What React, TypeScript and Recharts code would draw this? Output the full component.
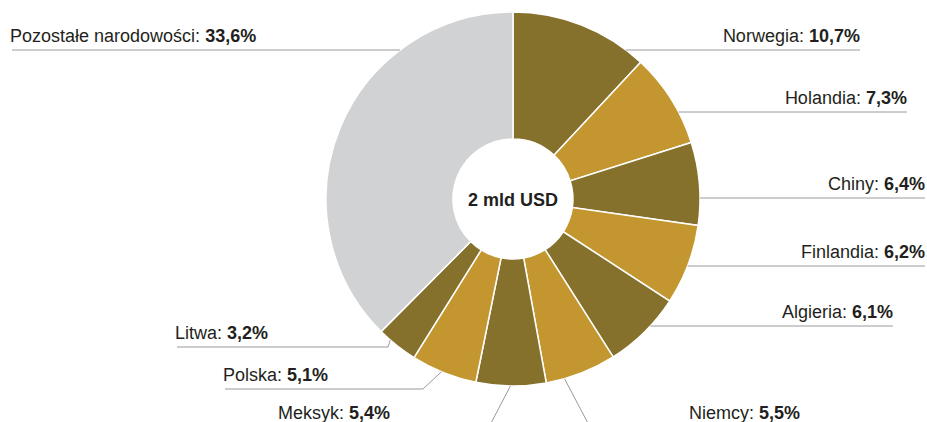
import { PieChart, Pie, Cell } from 'recharts';

const countries = [
  'Norwegia',
  'Holandia',
  'Chiny',
  'Finlandia',
  'Algieria',
  'Niemcy',
  'Meksyk',
  'Polska',
  'Litwa',
  'Pozostałe narodowości',
];
const shares = [10.7, 7.3, 6.4, 6.2, 6.1, 5.5, 5.4, 5.1, 3.2, 33.6];
const centerLabel = '2 mld USD';

const DARK = '#85702c';
const GOLD = '#c39630';
const GREY = '#d1d2d4';
const LINE = '#9a9a9a';
const TEXT = '#231f20';

const data = countries.map((name, i) => ({ name, value: shares[i] }));

// label leader lines: horizontal ones start on the rim at lineY,
// elbow ones start on the rim at angle (deg from 12 o'clock, clockwise)
type Leader = {
  side: 'left' | 'right';
  lineY: number;
  endX: number;
  angle?: number;
  elbowX?: number;
};
const leaders: Leader[] = [
  { side: 'right', lineY: 50, endX: 860 },
  { side: 'right', lineY: 112, endX: 907 },
  { side: 'right', lineY: 198, endX: 925 },
  { side: 'right', lineY: 266, endX: 925 },
  { side: 'right', lineY: 326, endX: 893 },
  { side: 'right', lineY: 427, endX: 800, angle: 164, elbowX: 590 },
  { side: 'left', lineY: 427, endX: 280, angle: 180.8, elbowX: 489 },
  { side: 'left', lineY: 389, endX: 225, angle: 202.5, elbowX: 423 },
  { side: 'left', lineY: 347, endX: 177, angle: 221, elbowX: 388 },
  { side: 'left', lineY: 50, endX: 12 },
];

const fmt = (v: number) => `${v.toFixed(1).replace('.', ',')}%`;

const renderLabel = (props: any) => {
  const { cx, cy, outerRadius, index } = props;
  const l = leaders[index];
  let path: string;
  if (l.angle !== undefined && l.elbowX !== undefined) {
    const a = (l.angle * Math.PI) / 180;
    const sx = cx + outerRadius * Math.sin(a);
    const sy = cy - outerRadius * Math.cos(a);
    path = `M${sx},${sy}L${l.elbowX},${l.lineY}L${l.endX},${l.lineY}`;
  } else {
    const dy = l.lineY - cy;
    const dx = Math.sqrt(Math.max(outerRadius * outerRadius - dy * dy, 0));
    const sx = l.side === 'right' ? cx + dx : cx - dx;
    path = `M${sx},${l.lineY}L${l.endX},${l.lineY}`;
  }
  const right = l.side === 'right';
  return (
    <g key={`lbl-${index}`}>
      <path d={path} stroke={LINE} strokeWidth={1} fill="none" />
      <text
        x={right ? l.endX : l.endX - 2}
        y={l.lineY - 8}
        textAnchor={right ? 'end' : 'start'}
        fontSize={18}
        fill={TEXT}
        fontFamily="'Liberation Sans', Arial, sans-serif"
      >
        {countries[index]}:{' '}
        <tspan fontWeight={700}>{fmt(shares[index])}</tspan>
      </text>
    </g>
  );
};

export default function App() {
  return (
    <div
      style={{
        position: 'absolute',
        left: 0,
        top: 0,
        width: 927,
        height: 422,
        background: '#fff',
      }}
    >
      <PieChart width={927} height={422} margin={{ top: 0, right: 0, bottom: 0, left: 0 }}>
        <Pie
          data={data}
          dataKey="value"
          nameKey="name"
          cx={513}
          cy={199}
          innerRadius={60}
          outerRadius={187}
          startAngle={90}
          endAngle={-270}
          stroke="#fff"
          strokeWidth={1.5}
          label={renderLabel}
          labelLine={false}
          isAnimationActive={false}
        >
          {data.map((d, i) => (
            <Cell
              key={d.name}
              fill={i === data.length - 1 ? GREY : i % 2 === 0 ? DARK : GOLD}
            />
          ))}
        </Pie>
        <text
          x={513}
          y={206}
          textAnchor="middle"
          fontSize={18}
          fontWeight={700}
          fill={TEXT}
          fontFamily="'Liberation Sans', Arial, sans-serif"
        >
          {centerLabel}
        </text>
      </PieChart>
    </div>
  );
}
